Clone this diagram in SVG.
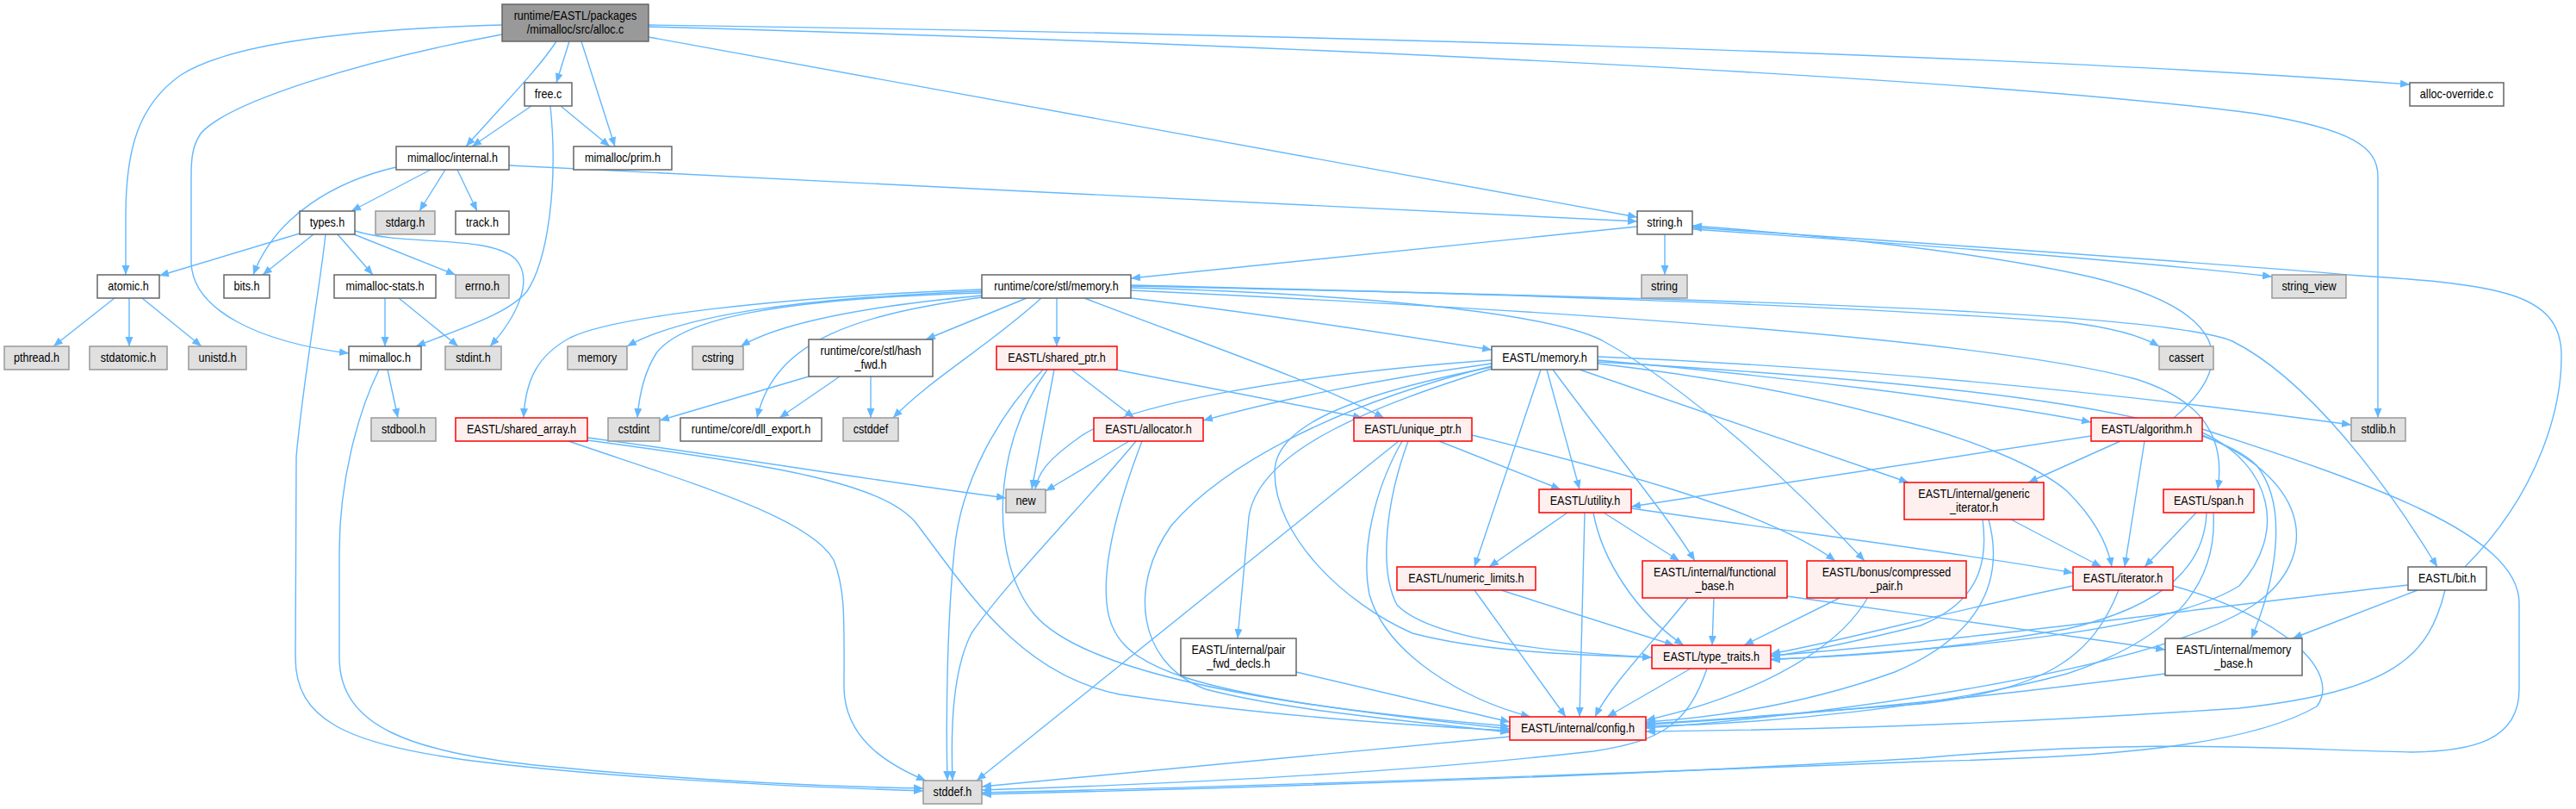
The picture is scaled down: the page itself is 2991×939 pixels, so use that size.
<svg xmlns="http://www.w3.org/2000/svg" width="2991" height="939" viewBox="0 0 2991 939">
<style>
.w rect{fill:#fff;stroke:#666;stroke-width:1.5}
.g rect{fill:#e0e0e0;stroke:#999;stroke-width:1.5}
.r rect{fill:#fff0f0;stroke:#f00;stroke-width:1.5}
.m rect{fill:#999;stroke:#666;stroke-width:1.5}
text{font-family:"Liberation Sans",Arial,sans-serif;font-size:14px;text-anchor:middle;fill:#000;transform-box:fill-box;transform-origin:center;transform:scaleX(0.9)}
#edges path{fill:none;stroke:#63b8ff;stroke-width:1.4;marker-end:url(#a)}
</style>
<defs>
<marker id="a" markerUnits="userSpaceOnUse" markerWidth="12" markerHeight="10" refX="11" refY="4.5" orient="auto"><path d="M0,0 L11,4.5 L0,9 z" fill="#63b8ff"/></marker>
</defs>
<rect width="2991" height="939" fill="#fff"/>
<g id="edges">
<path d="M583,29 C400,34 265,52 210,87 C160,122 146,175 146,250 L146,319"/>
<path d="M583,40 C420,70 265,118 233,155 C223,170 222,185 222,205 L222,305 C224,360 300,397 405,410"/>
<path d="M646,48 C625,80 590,115 541,170"/>
<path d="M661,48 L646,96"/>
<path d="M675,48 L714,170"/>
<path d="M753,43 L1901,252"/>
<path d="M753,29 C1400,38 2300,60 2798,98"/>
<path d="M753,31 C1500,52 2300,90 2620,132 C2730,150 2761,170 2761,205 L2761,485"/>
<path d="M617,123 L548,170"/>
<path d="M651,123 L708,170"/>
<path d="M639,123 C648,210 637,300 612,338 C590,365 530,383 483,402"/>
<path d="M500,197 L408,245"/>
<path d="M517,197 L487,245"/>
<path d="M531,197 L554,245"/>
<path d="M460,194 C390,210 320,250 294,319"/>
<path d="M591,192 C1000,212 1500,238 1901,257"/>
<path d="M348,271 L185,320"/>
<path d="M364,272 L305,319"/>
<path d="M378,272 C372,330 352,440 344,530 L343,763 C343,835 400,862 540,882 C720,905 950,914 1072,918"/>
<path d="M392,272 L433,319"/>
<path d="M411,272 L529,319"/>
<path d="M412,268 C470,286 565,272 598,300 C622,325 598,370 569,402"/>
<path d="M133,346 L62,402"/>
<path d="M150,346 L150,402"/>
<path d="M165,346 L234,402"/>
<path d="M447,346 L447,402"/>
<path d="M463,346 L532,402"/>
<path d="M450,429 L462,485"/>
<path d="M440,429 C415,480 394,560 394,640 L394,763 C394,845 480,872 620,888 C800,906 960,913 1072,915"/>
<path d="M1933,272 L1933,319"/>
<path d="M1965,266 C2200,282 2450,300 2638,321"/>
<path d="M1901,263 L1313,323"/>
<path d="M2524,485 C2600,420 2585,360 2430,322 C2300,292 2100,272 1965,262"/>
<path d="M2862,658 C2950,570 2975,470 2974,410 C2972,340 2900,330 2740,320 C2500,300 2200,280 1965,264"/>
<path d="M1140,338 C950,345 800,362 728,402"/>
<path d="M1140,336 C900,345 710,368 662,392 C625,412 610,440 608,485"/>
<path d="M1140,340 C900,347 792,370 762,410 C748,432 742,460 740,485"/>
<path d="M1140,343 C1000,356 905,375 860,402"/>
<path d="M1192,346 L1075,394"/>
<path d="M1140,345 C1000,365 900,392 879,485"/>
<path d="M1209,346 C1150,400 1080,440 1037,485"/>
<path d="M1227,346 L1227,402"/>
<path d="M1313,346 C1450,362 1600,385 1732,406"/>
<path d="M1259,346 C1400,400 1520,440 1607,485"/>
<path d="M1313,331 C1700,340 2100,352 2400,374 C2460,381 2490,392 2507,402"/>
<path d="M1313,332 C1900,345 2500,358 2592,396 C2680,440 2770,560 2830,658"/>
<path d="M1313,337 C1800,360 2300,392 2480,440 C2560,465 2584,510 2575,568"/>
<path d="M1313,334 C1600,342 1800,365 1860,395 C1960,450 2080,560 2165,651"/>
<path d="M1211,429 C1160,480 1115,560 1108,640 C1100,720 1098,830 1100,906"/>
<path d="M1216,429 C1150,520 1150,650 1200,712 C1260,785 1500,822 1753,843"/>
<path d="M1224,429 L1198,568"/>
<path d="M1244,429 L1317,485"/>
<path d="M1295,429 L1582,485"/>
<path d="M1311,512 L1214,570"/>
<path d="M1319,512 C1270,572 1165,680 1128,735 C1105,780 1104,850 1106,906"/>
<path d="M1326,512 C1300,580 1280,650 1285,700 C1292,775 1360,805 1753,846"/>
<path d="M682,508 C850,530 1000,556 1168,578"/>
<path d="M682,511 C900,540 1020,560 1062,605 C1120,680 1180,782 1300,806 C1450,828 1600,840 1753,848"/>
<path d="M660,512 C800,560 940,600 968,650 C982,685 980,720 980,800 C982,855 1025,885 1075,906"/>
<path d="M939,437 L766,488"/>
<path d="M975,437 L905,485"/>
<path d="M1011,437 L1011,485"/>
<path d="M1624,512 L1134,906"/>
<path d="M1628,512 C1595,570 1580,640 1590,690 C1610,760 1700,812 1777,832"/>
<path d="M1635,512 C1610,580 1600,660 1622,702 C1660,742 1800,757 1918,763"/>
<path d="M1671,512 L1812,568"/>
<path d="M1709,505 C1850,540 2050,590 2131,651"/>
<path d="M1732,418 C1500,435 1300,470 1250,510 C1215,535 1205,550 1202,568"/>
<path d="M1732,422 C1600,440 1480,465 1397,488"/>
<path d="M1732,425 C1550,470 1420,540 1360,610 C1310,680 1320,770 1400,800 C1500,826 1650,838 1753,850"/>
<path d="M1732,426 C1550,462 1480,500 1480,548 C1480,622 1560,700 1640,735 C1720,756 1820,760 1918,763"/>
<path d="M1732,428 C1600,470 1462,520 1450,600 L1437,741"/>
<path d="M1796,429 L1834,568"/>
<path d="M1789,429 L1712,658"/>
<path d="M1803,429 C1870,520 1930,590 1968,651"/>
<path d="M1855,418 C2050,435 2300,465 2428,490"/>
<path d="M1855,414 C2200,428 2500,462 2730,493"/>
<path d="M1834,429 L2216,560"/>
<path d="M1855,422 C2100,450 2330,510 2400,570 C2430,600 2447,630 2452,658"/>
<path d="M1855,420 C2200,440 2550,470 2620,540 C2660,590 2640,680 2614,741"/>
<path d="M1820,595 L1729,658"/>
<path d="M1862,595 L1950,651"/>
<path d="M1850,595 C1860,650 1900,712 1955,749"/>
<path d="M1840,595 L1834,832"/>
<path d="M1894,590 C2100,620 2300,645 2407,665"/>
<path d="M1712,685 L1818,832"/>
<path d="M1743,685 L1944,749"/>
<path d="M1990,693 L1988,749"/>
<path d="M1961,693 C1920,745 1870,795 1852,832"/>
<path d="M2075,692 L2514,754"/>
<path d="M2138,693 L2025,749"/>
<path d="M2169,693 C2130,762 2020,812 1911,836"/>
<path d="M1963,776 L1866,832"/>
<path d="M1982,776 C1960,840 1930,860 1850,872 C1600,900 1300,912 1140,917"/>
<path d="M1753,855 L1140,913"/>
<path d="M1505,780 L1753,838"/>
<path d="M2460,685 C2430,760 2380,800 2230,817 C2100,826 2000,836 1911,840"/>
<path d="M2407,680 C2250,712 2150,742 2056,759"/>
<path d="M2523,680 C2650,715 2720,780 2690,820 C2600,872 2400,880 2230,884 C1900,897 1500,912 1140,920"/>
<path d="M2335,603 L2440,658"/>
<path d="M2302,603 C2310,662 2290,702 2230,726 C2150,746 2100,756 2056,762"/>
<path d="M2309,603 C2330,682 2290,742 2200,780 C2100,816 2000,832 1911,838"/>
<path d="M2428,506 L1894,588"/>
<path d="M2462,512 L2355,560"/>
<path d="M2490,512 L2467,658"/>
<path d="M2557,502 C2640,540 2655,620 2600,680 C2500,742 2200,756 2056,766"/>
<path d="M2557,505 C2690,560 2690,650 2620,700 C2500,782 2100,832 1911,845"/>
<path d="M2557,498 C2750,560 2925,620 2925,700 L2925,800 C2925,860 2870,872 2800,873 C2650,870 2500,856 2230,880 C1900,900 1500,913 1140,922"/>
<path d="M2550,595 L2490,658"/>
<path d="M2562,595 C2560,652 2520,702 2400,730 C2250,756 2150,762 2056,765"/>
<path d="M2570,595 C2575,682 2520,742 2400,782 C2250,822 2050,840 1911,843"/>
<path d="M2796,679 C2600,700 2300,742 2056,761"/>
<path d="M2807,685 L2662,741"/>
<path d="M2839,685 C2820,762 2780,802 2600,822 C2300,842 2100,847 1911,849"/>
<path d="M2514,782 C2300,810 2100,830 1911,841"/>
</g>
<g id="n_main" class="m"><rect x="583" y="5" width="170" height="43"/><text x="668" y="23.5">runtime/EASTL/packages</text><text x="668" y="39.5">/mimalloc/src/alloc.c</text></g>
<g id="n_free" class="w"><rect x="609" y="96" width="55" height="27"/><text x="636.5" y="114.5">free.c</text></g>
<g id="n_override" class="w"><rect x="2798" y="96" width="109" height="27"/><text x="2852.5" y="114.5">alloc-override.c</text></g>
<g id="n_internal" class="w"><rect x="460" y="170" width="131" height="27"/><text x="525.5" y="188.5">mimalloc/internal.h</text></g>
<g id="n_prim" class="w"><rect x="666" y="170" width="114" height="27"/><text x="723" y="188.5">mimalloc/prim.h</text></g>
<g id="n_types" class="w"><rect x="348" y="245" width="64" height="27"/><text x="380" y="263.5">types.h</text></g>
<g id="n_stdarg" class="g"><rect x="436" y="245" width="69" height="27"/><text x="470.5" y="263.5">stdarg.h</text></g>
<g id="n_track" class="w"><rect x="529" y="245" width="62" height="27"/><text x="560" y="263.5">track.h</text></g>
<g id="n_stringh" class="w"><rect x="1901" y="245" width="64" height="27"/><text x="1933" y="263.5">string.h</text></g>
<g id="n_atomic" class="w"><rect x="113" y="319" width="72" height="27"/><text x="149" y="337.5">atomic.h</text></g>
<g id="n_bits" class="w"><rect x="260" y="319" width="53" height="27"/><text x="286.5" y="337.5">bits.h</text></g>
<g id="n_stats" class="w"><rect x="388" y="319" width="118" height="27"/><text x="447" y="337.5">mimalloc-stats.h</text></g>
<g id="n_errno" class="g"><rect x="529" y="319" width="62" height="27"/><text x="560" y="337.5">errno.h</text></g>
<g id="n_rtmem" class="w"><rect x="1140" y="319" width="173" height="27"/><text x="1226.5" y="337.5">runtime/core/stl/memory.h</text></g>
<g id="n_string" class="g"><rect x="1906" y="319" width="53" height="27"/><text x="1932.5" y="337.5">string</text></g>
<g id="n_string_view" class="g"><rect x="2638" y="319" width="86" height="27"/><text x="2681" y="337.5">string_view</text></g>
<g id="n_pthread" class="g"><rect x="5" y="402" width="75" height="27"/><text x="42.5" y="420.5">pthread.h</text></g>
<g id="n_stdatomic" class="g"><rect x="104" y="402" width="90" height="27"/><text x="149" y="420.5">stdatomic.h</text></g>
<g id="n_unistd" class="g"><rect x="219" y="402" width="67" height="27"/><text x="252.5" y="420.5">unistd.h</text></g>
<g id="n_mimalloc" class="w"><rect x="405" y="402" width="84" height="27"/><text x="447" y="420.5">mimalloc.h</text></g>
<g id="n_stdint" class="g"><rect x="517" y="402" width="65" height="27"/><text x="549.5" y="420.5">stdint.h</text></g>
<g id="n_memory" class="g"><rect x="659" y="402" width="69" height="27"/><text x="693.5" y="420.5">memory</text></g>
<g id="n_cstring" class="g"><rect x="804" y="402" width="59" height="27"/><text x="833.5" y="420.5">cstring</text></g>
<g id="n_hashfwd" class="w"><rect x="939" y="394" width="144" height="43"/><text x="1011" y="412.5">runtime/core/stl/hash</text><text x="1011" y="428.5">_fwd.h</text></g>
<g id="n_shared_ptr" class="r"><rect x="1157" y="402" width="140" height="27"/><text x="1227" y="420.5">EASTL/shared_ptr.h</text></g>
<g id="n_eastl_memory" class="w"><rect x="1732" y="402" width="123" height="27"/><text x="1793.5" y="420.5">EASTL/memory.h</text></g>
<g id="n_cassert" class="g"><rect x="2507" y="402" width="63" height="27"/><text x="2538.5" y="420.5">cassert</text></g>
<g id="n_stdbool" class="g"><rect x="431" y="485" width="75" height="27"/><text x="468.5" y="503.5">stdbool.h</text></g>
<g id="n_shared_array" class="r"><rect x="529" y="485" width="153" height="27"/><text x="605.5" y="503.5">EASTL/shared_array.h</text></g>
<g id="n_cstdint" class="g"><rect x="706" y="485" width="60" height="27"/><text x="736" y="503.5">cstdint</text></g>
<g id="n_dll_export" class="w"><rect x="790" y="485" width="164" height="27"/><text x="872" y="503.5">runtime/core/dll_export.h</text></g>
<g id="n_cstddef" class="g"><rect x="979" y="485" width="64" height="27"/><text x="1011" y="503.5">cstddef</text></g>
<g id="n_allocator" class="r"><rect x="1270" y="485" width="127" height="27"/><text x="1333.5" y="503.5">EASTL/allocator.h</text></g>
<g id="n_unique_ptr" class="r"><rect x="1572" y="485" width="137" height="27"/><text x="1640.5" y="503.5">EASTL/unique_ptr.h</text></g>
<g id="n_algorithm" class="r"><rect x="2428" y="485" width="129" height="27"/><text x="2492.5" y="503.5">EASTL/algorithm.h</text></g>
<g id="n_stdlib" class="g"><rect x="2730" y="485" width="63" height="27"/><text x="2761.5" y="503.5">stdlib.h</text></g>
<g id="n_new" class="g"><rect x="1168" y="568" width="46" height="27"/><text x="1191" y="586.5">new</text></g>
<g id="n_utility" class="r"><rect x="1787" y="568" width="107" height="27"/><text x="1840.5" y="586.5">EASTL/utility.h</text></g>
<g id="n_generic_iterator" class="r"><rect x="2211" y="560" width="162" height="43"/><text x="2292" y="578.5">EASTL/internal/generic</text><text x="2292" y="594.5">_iterator.h</text></g>
<g id="n_span" class="r"><rect x="2512" y="568" width="105" height="27"/><text x="2564.5" y="586.5">EASTL/span.h</text></g>
<g id="n_numeric_limits" class="r"><rect x="1622" y="658" width="161" height="27"/><text x="1702.5" y="676.5">EASTL/numeric_limits.h</text></g>
<g id="n_functional_base" class="r"><rect x="1907" y="651" width="168" height="43"/><text x="1991" y="669.5">EASTL/internal/functional</text><text x="1991" y="685.5">_base.h</text></g>
<g id="n_compressed_pair" class="r"><rect x="2098" y="651" width="185" height="43"/><text x="2190.5" y="669.5">EASTL/bonus/compressed</text><text x="2190.5" y="685.5">_pair.h</text></g>
<g id="n_iterator" class="r"><rect x="2407" y="658" width="116" height="27"/><text x="2465" y="676.5">EASTL/iterator.h</text></g>
<g id="n_bit" class="w"><rect x="2796" y="658" width="91" height="27"/><text x="2841.5" y="676.5">EASTL/bit.h</text></g>
<g id="n_pair_fwd" class="w"><rect x="1371" y="741" width="134" height="43"/><text x="1438" y="759.5">EASTL/internal/pair</text><text x="1438" y="775.5">_fwd_decls.h</text></g>
<g id="n_type_traits" class="r"><rect x="1918" y="749" width="138" height="27"/><text x="1987" y="767.5">EASTL/type_traits.h</text></g>
<g id="n_memory_base" class="w"><rect x="2514" y="741" width="159" height="43"/><text x="2593.5" y="759.5">EASTL/internal/memory</text><text x="2593.5" y="775.5">_base.h</text></g>
<g id="n_config" class="r"><rect x="1753" y="832" width="158" height="27"/><text x="1832" y="850.5">EASTL/internal/config.h</text></g>
<g id="n_stddef" class="g"><rect x="1072" y="906" width="68" height="27"/><text x="1106" y="924.5">stddef.h</text></g>
</svg>
